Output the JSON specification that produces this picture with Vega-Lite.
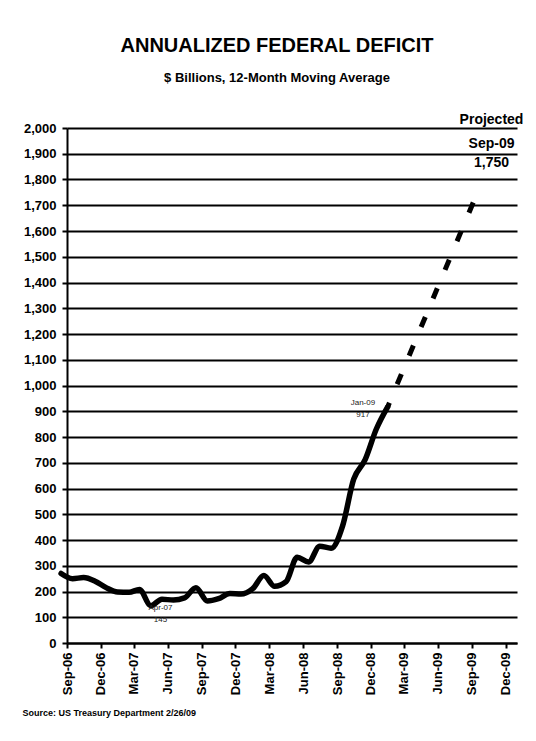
{
  "$schema": "https://vega.github.io/schema/vega-lite/v6.json",
  "width": 450,
  "height": 515,
  "autosize": {"type": "none"},
  "padding": {"left": 67, "top": 128, "right": 19, "bottom": 98},
  "background": "white",
  "config": {"view": {"stroke": null}, "font": "Liberation Sans"},
  "title": {
    "text": "ANNUALIZED FEDERAL DEFICIT",
    "subtitle": "$ Billions, 12-Month Moving Average",
    "font": "Liberation Sans",
    "fontSize": 20,
    "fontWeight": "bold",
    "color": "black",
    "subtitleFont": "Liberation Sans",
    "subtitleFontSize": 13,
    "subtitleFontWeight": "bold",
    "subtitleColor": "black",
    "subtitlePadding": 16,
    "anchor": "middle",
    "frame": "group",
    "dx": -15,
    "offset": 28
  },
  "datasets": {
    "actual": [
      {"month": "2006-08-16", "deficit": 270},
      {"month": "2006-09-16", "deficit": 250},
      {"month": "2006-10-16", "deficit": 254},
      {"month": "2006-11-16", "deficit": 240},
      {"month": "2006-12-16", "deficit": 215},
      {"month": "2007-01-16", "deficit": 198},
      {"month": "2007-02-16", "deficit": 197},
      {"month": "2007-03-16", "deficit": 208},
      {"month": "2007-04-16", "deficit": 145},
      {"month": "2007-05-16", "deficit": 170},
      {"month": "2007-06-16", "deficit": 167},
      {"month": "2007-07-16", "deficit": 175},
      {"month": "2007-08-16", "deficit": 215},
      {"month": "2007-09-16", "deficit": 163},
      {"month": "2007-10-16", "deficit": 172},
      {"month": "2007-11-16", "deficit": 192},
      {"month": "2007-12-16", "deficit": 190},
      {"month": "2008-01-16", "deficit": 210},
      {"month": "2008-02-16", "deficit": 262},
      {"month": "2008-03-16", "deficit": 220},
      {"month": "2008-04-16", "deficit": 238},
      {"month": "2008-05-16", "deficit": 333},
      {"month": "2008-06-16", "deficit": 315},
      {"month": "2008-07-16", "deficit": 376},
      {"month": "2008-08-16", "deficit": 368},
      {"month": "2008-09-16", "deficit": 455},
      {"month": "2008-10-16", "deficit": 636},
      {"month": "2008-11-16", "deficit": 712},
      {"month": "2008-12-16", "deficit": 830},
      {"month": "2009-01-16", "deficit": 917}
    ],
    "projected": [
      {"month": "2009-01-16", "deficit": 917},
      {"month": "2009-09-16", "deficit": 1750}
    ],
    "projNotes": [
      {"month": "2009-10-24", "pos": 2031, "label": "Projected"},
      {"month": "2009-10-24", "pos": 1938, "label": "Sep-09"},
      {"month": "2009-10-24", "pos": 1864, "label": "1,750"}
    ],
    "pointNotes": [
      {"month": "2007-05-12", "pos": 136, "label": "Apr-07"},
      {"month": "2007-05-12", "pos": 89, "label": "145"},
      {"month": "2008-11-10", "pos": 932, "label": "Jan-09"},
      {"month": "2008-11-10", "pos": 885, "label": "917"}
    ]
  },
  "layer": [
    {
      "data": {"name": "actual"},
      "mark": {"type": "line", "color": "black", "strokeWidth": 5.5, "interpolate": "monotone", "strokeCap": "round", "strokeJoin": "round", "clip": false},
      "encoding": {
        "x": {
          "field": "month",
          "type": "temporal",
          "scale": {"type": "utc", "domain": [{"year": 2006, "month": 9, "date": 1, "utc": true}, {"year": 2010, "month": 1, "date": 1, "utc": true}]},
          "axis": {
            "values": [
              {"year": 2006, "month": 9, "date": 1, "utc": true},
              {"year": 2006, "month": 12, "date": 1, "utc": true},
              {"year": 2007, "month": 3, "date": 1, "utc": true},
              {"year": 2007, "month": 6, "date": 1, "utc": true},
              {"year": 2007, "month": 9, "date": 1, "utc": true},
              {"year": 2007, "month": 12, "date": 1, "utc": true},
              {"year": 2008, "month": 3, "date": 1, "utc": true},
              {"year": 2008, "month": 6, "date": 1, "utc": true},
              {"year": 2008, "month": 9, "date": 1, "utc": true},
              {"year": 2008, "month": 12, "date": 1, "utc": true},
              {"year": 2009, "month": 3, "date": 1, "utc": true},
              {"year": 2009, "month": 6, "date": 1, "utc": true},
              {"year": 2009, "month": 9, "date": 1, "utc": true},
              {"year": 2009, "month": 12, "date": 1, "utc": true}
            ],
            "tickCount": 50,
            "format": "%b-%y",
            "labelAngle": 270,
            "labelAlign": "right",
            "labelBaseline": "middle",
            "labelFont": "Liberation Sans",
            "labelFontSize": 13,
            "labelFontWeight": "bold",
            "labelColor": "black",
            "labelPadding": 4,
            "labelOverlap": false,
            "labelFlush": false,
            "grid": false,
            "domainColor": "black",
            "domainWidth": 2,
            "tickColor": "black",
            "tickWidth": 2,
            "tickSize": 5,
            "title": "Source: US Treasury Department 2/26/09",
            "titleAnchor": "start",
            "titleAlign": "left",
            "titleBaseline": "middle",
            "titleX": -45,
            "titleY": 69,
            "titleFont": "Liberation Sans",
            "titleFontSize": 9,
            "titleFontWeight": "bold",
            "titleColor": "black"
          }
        },
        "y": {
          "field": "deficit",
          "type": "quantitative",
          "scale": {"domain": [0, 2000], "nice": false, "zero": true},
          "axis": {
            "values": [0, 100, 200, 300, 400, 500, 600, 700, 800, 900, 1000, 1100, 1200, 1300, 1400, 1500, 1600, 1700, 1800, 1900, 2000],
            "tickCount": 50,
            "format": ",d",
            "labelFont": "Liberation Sans",
            "labelFontSize": 13,
            "labelFontWeight": "bold",
            "labelColor": "black",
            "labelPadding": 6,
            "labelOverlap": false,
            "grid": true,
            "gridColor": "black",
            "gridWidth": 2,
            "gridOpacity": 1,
            "domainColor": "black",
            "domainWidth": 2,
            "tickColor": "black",
            "tickWidth": 2,
            "tickSize": 5,
            "title": null
          }
        }
      }
    },
    {
      "data": {"name": "projected"},
      "mark": {"type": "line", "color": "black", "strokeWidth": 5, "strokeDash": [11, 20], "strokeDashOffset": 6.5, "clip": false},
      "encoding": {
        "x": {"field": "month", "type": "temporal"},
        "y": {"field": "deficit", "type": "quantitative"}
      }
    },
    {
      "data": {"name": "projNotes"},
      "mark": {"type": "text", "font": "Liberation Sans", "fontSize": 14, "fontWeight": "bold", "color": "black", "align": "center", "baseline": "middle"},
      "encoding": {
        "x": {"field": "month", "type": "temporal"},
        "y": {"field": "pos", "type": "quantitative"},
        "text": {"field": "label"}
      }
    },
    {
      "data": {"name": "pointNotes"},
      "mark": {"type": "text", "font": "Liberation Sans", "fontSize": 8, "color": "#222222", "align": "center", "baseline": "middle"},
      "encoding": {
        "x": {"field": "month", "type": "temporal"},
        "y": {"field": "pos", "type": "quantitative"},
        "text": {"field": "label"}
      }
    }
  ]
}
